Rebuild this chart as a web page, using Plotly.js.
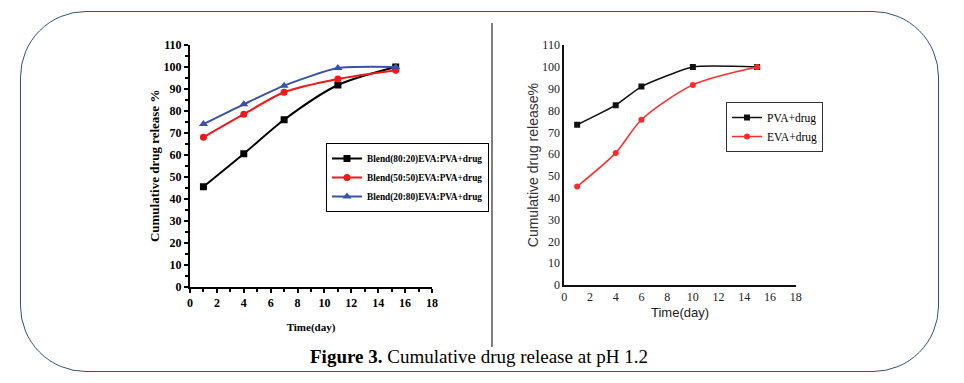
<!DOCTYPE html>
<html>
<head>
<meta charset="utf-8">
<script src="https://cdn.plot.ly/plotly-3.0.1.min.js"></script>
<style>
html,body{margin:0;padding:0;background:#fff;}
#wrap{position:relative;width:964px;height:383px;overflow:hidden;}
#frame{position:absolute;left:20px;top:11px;width:919px;height:361px;border:1.5px solid #34507a;border-radius:66px;box-sizing:border-box;}
#chart{position:absolute;left:0;top:0;width:964px;height:383px;}
</style>
</head>
<body>
<div id="wrap"><div id="frame"></div><div id="chart"></div></div>
<script>
// Left panel: blends
var leftDays = [1, 4, 7, 11, 15.3];
var blend8020 = [45.5, 60.5, 76, 91.8, 100];
var blend5050 = [68, 78.5, 88.5, 94.5, 98.5];
var blend2080 = [74, 83, 91.5, 99.5, 100];
var leftNames = ['Blend(80:20)EVA:PVA+drug', 'Blend(50:50)EVA:PVA+drug', 'Blend(20:80)EVA:PVA+drug'];

// Right panel: pure polymers
var rightDays = [1, 4, 6, 10, 15];
var pvaDrug = [73.5, 82.5, 91, 100, 100];
var evaDrug = [45.2, 60.6, 75.8, 91.8, 100];
var rightNames = ['PVA+drug', 'EVA+drug'];

var yTicks = [0, 10, 20, 30, 40, 50, 60, 70, 80, 90, 100, 110];
var xTicks = [0, 2, 4, 6, 8, 10, 12, 14, 16, 18];

var SERIF = 'Liberation Serif';
var SANS = 'Liberation Sans';

var traces = [
  {x: leftDays, y: blend8020, name: leftNames[0], mode: 'lines+markers', line: {shape: 'spline', smoothing: 0.8, color: '#000', width: 2}, marker: {symbol: 'square', size: 7, color: '#000'}, xaxis: 'x', yaxis: 'y', legend: 'legend'},
  {x: leftDays, y: blend5050, name: leftNames[1], mode: 'lines+markers', line: {shape: 'spline', smoothing: 0.8, color: '#f01818', width: 2}, marker: {symbol: 'circle', size: 7, color: '#f01818'}, xaxis: 'x', yaxis: 'y', legend: 'legend'},
  {x: leftDays, y: blend2080, name: leftNames[2], mode: 'lines+markers', line: {shape: 'spline', smoothing: 0.6, color: '#3a52a4', width: 2}, marker: {symbol: 'triangle-up', size: 8, color: '#3a52a4'}, xaxis: 'x', yaxis: 'y', legend: 'legend'},
  {x: rightDays, y: pvaDrug, name: rightNames[0], mode: 'lines+markers', line: {shape: 'spline', smoothing: 0.5, color: '#111', width: 1.5}, marker: {symbol: 'square', size: 6, color: '#111'}, xaxis: 'x2', yaxis: 'y2', legend: 'legend2'},
  {x: rightDays, y: evaDrug, name: rightNames[1], mode: 'lines+markers', line: {shape: 'spline', smoothing: 0.8, color: '#ff2a2a', width: 1.5}, marker: {symbol: 'circle', size: 6, color: '#ff2a2a'}, xaxis: 'x2', yaxis: 'y2', legend: 'legend2'}
];

var layout = {
  width: 964, height: 383,
  margin: {l: 0, r: 0, t: 0, b: 0},
  paper_bgcolor: 'rgba(0,0,0,0)',
  plot_bgcolor: 'rgba(0,0,0,0)',
  font: {family: SERIF, color: '#000'},
  showlegend: true,
  xaxis: {
    domain: [190/964, 432/964], range: [0, 18], tickvals: xTicks, ticktext: xTicks.map(function(v){return '<b>' + v + '</b>';}),
    showgrid: false, zeroline: false, showline: true, linecolor: '#000', linewidth: 2,
    ticks: 'outside', ticklen: 4, tickwidth: 2, tickcolor: '#000',
    minor: {dtick: 1, tick0: 0, ticks: 'outside', ticklen: 3, tickwidth: 2, tickcolor: '#000', showgrid: false},
    tickfont: {family: SERIF, size: 12, color: '#000'},
    title: {text: '<b>Time(day)</b>', font: {family: SERIF, size: 11, color: '#000'}, standoff: 14},
    anchor: 'y', fixedrange: true
  },
  yaxis: {
    domain: [96.3/383, 338/383], range: [0, 110], tickvals: yTicks, ticktext: yTicks.map(function(v){return '<b>' + v + '</b>';}),
    showgrid: false, zeroline: false, showline: true, linecolor: '#000', linewidth: 2,
    ticks: 'outside', ticklen: 4, tickwidth: 2, tickcolor: '#000',
    minor: {dtick: 5, tick0: 0, ticks: 'outside', ticklen: 3, tickwidth: 2, tickcolor: '#000', showgrid: false},
    tickfont: {family: SERIF, size: 12, color: '#000'},
    title: {text: '<b>Cumulative drug release %</b>', font: {family: SERIF, size: 13, color: '#000'}, standoff: 1},
    anchor: 'x', fixedrange: true
  },
  xaxis2: {
    domain: [564.3/964, 795.7/964], range: [0, 18], tickvals: xTicks, ticktext: xTicks.map(String),
    showgrid: false, zeroline: false, showline: true, linecolor: '#111', linewidth: 2,
    ticks: '', tickfont: {family: SERIF, size: 12, color: '#222'},
    title: {text: 'Time(day)', font: {family: SANS, size: 13, color: '#222'}, standoff: 4},
    anchor: 'y2', fixedrange: true
  },
  yaxis2: {
    domain: [98/383, 337.8/383], range: [0, 110], tickvals: yTicks, ticktext: yTicks.map(String),
    showgrid: false, zeroline: false, showline: true, linecolor: '#111', linewidth: 2,
    ticks: '', tickfont: {family: SERIF, size: 12, color: '#222'},
    title: {text: 'Cumulative drug release%', font: {family: SANS, size: 14, color: '#333'}, standoff: 0},
    anchor: 'x2', fixedrange: true
  },
  legend: {
    x: 326/964, y: 1 - 143/383, xanchor: 'left', yanchor: 'top', xref: 'paper', yref: 'paper',
    bgcolor: '#fff', bordercolor: '#000', borderwidth: 1,
    font: {family: SERIF, size: 9.3, color: '#000', weight: 'bold'},
    itemwidth: 30, tracegroupgap: 0
  },
  legend2: {
    x: 726/964, y: 1 - 102/383, xanchor: 'left', yanchor: 'top', xref: 'paper', yref: 'paper',
    bgcolor: '#fff', bordercolor: '#333', borderwidth: 1,
    font: {family: SERIF, size: 11.5, color: '#000'},
    itemwidth: 30, tracegroupgap: 0
  },
  shapes: [
    {type: 'line', xref: 'paper', yref: 'paper', x0: 492/964, x1: 492/964, y0: 1 - 23/383, y1: 1 - 347/383, line: {color: '#000', width: 1}}
  ],
  annotations: [
    {xref: 'paper', yref: 'paper', x: 479/964, y: 1 - 356/383, xanchor: 'center', yanchor: 'middle', showarrow: false,
     text: '<b>Figure 3.</b> Cumulative drug release at pH 1.2',
     font: {family: SERIF, size: 19, color: '#000'}}
  ]
};

Plotly.newPlot('chart', traces, layout, {displayModeBar: false, staticPlot: true});
</script>
</body>
</html>
